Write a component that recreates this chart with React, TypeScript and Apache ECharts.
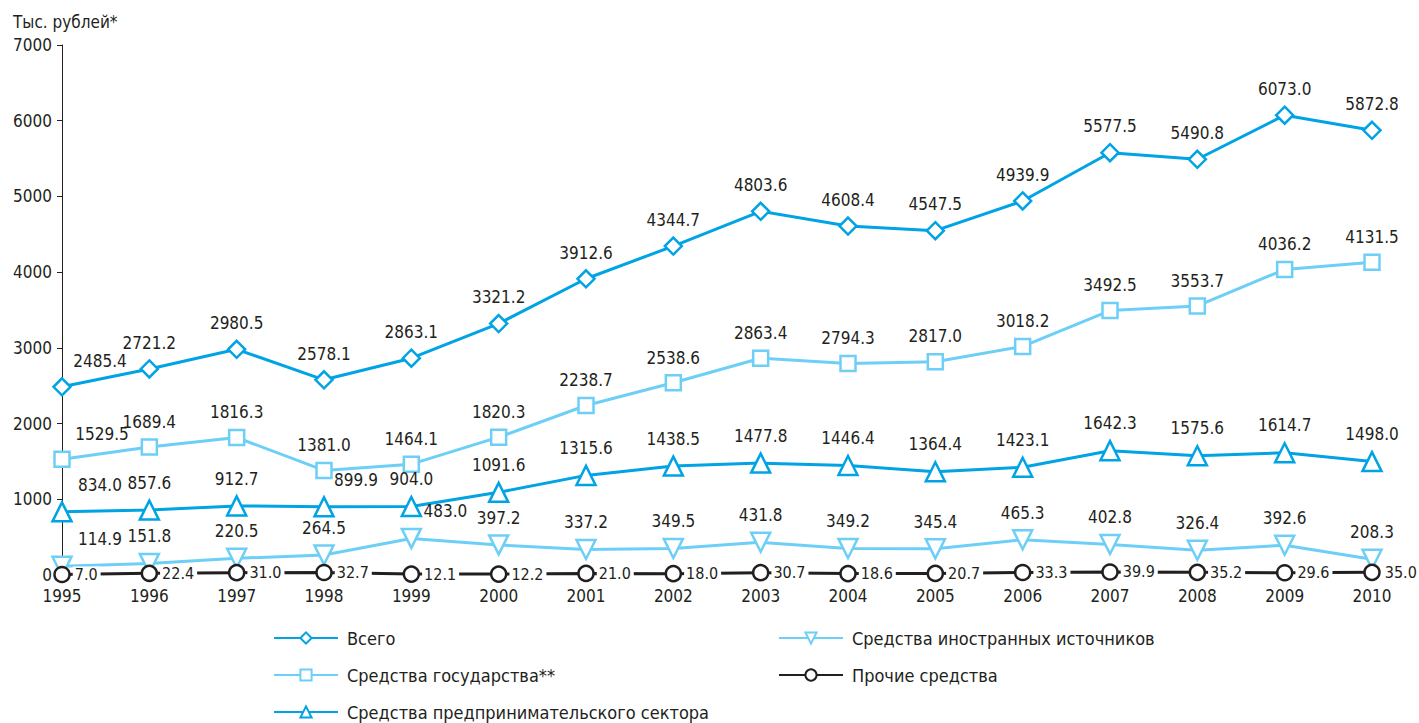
import React, { useEffect, useRef } from "react";
import * as echarts from "echarts";

const years = ["1995","1996","1997","1998","1999","2000","2001","2002","2003","2004","2005","2006","2007","2008","2009","2010"];
const total = [2485.4, 2721.2, 2980.5, 2578.1, 2863.1, 3321.2, 3912.6, 4344.7, 4803.6, 4608.4, 4547.5, 4939.9, 5577.5, 5490.8, 6073.0, 5872.8];
const gov = [1529.5, 1689.4, 1816.3, 1381.0, 1464.1, 1820.3, 2238.7, 2538.6, 2863.4, 2794.3, 2817.0, 3018.2, 3492.5, 3553.7, 4036.2, 4131.5];
const biz = [834.0, 857.6, 912.7, 899.9, 904.0, 1091.6, 1315.6, 1438.5, 1477.8, 1446.4, 1364.4, 1423.1, 1642.3, 1575.6, 1614.7, 1498.0];
const foreign = [114.9, 151.8, 220.5, 264.5, 483.0, 397.2, 337.2, 349.5, 431.8, 349.2, 345.4, 465.3, 402.8, 326.4, 392.6, 208.3];
const other = [7.0, 22.4, 31.0, 32.7, 12.1, 12.2, 21.0, 18.0, 30.7, 18.6, 20.7, 33.3, 39.9, 35.2, 29.6, 35.0];

const names = [
  "Всего",
  "Средства государства**",
  "Средства предпринимательского сектора",
  "Средства иностранных источников",
  "Прочие средства",
];

const FONT = "'DejaVu Sans Condensed', 'Liberation Sans Narrow', 'Roboto', sans-serif";
const DARK = "#231f20";
const BLUE = "#00a3e4";
const LIGHT = "#6dcff6";

// label shifts (index -> [dx, dy]) for a few points
const shiftTotal: Record<number, number[]> = { 0: [38, 0] };
const shiftGov: Record<number, number[]> = { 0: [40, 0] };
const shiftBiz: Record<number, number[]> = { 0: [38, 0], 3: [32, 0] };
const shiftForeign: Record<number, number[]> = { 0: [38, 0], 4: [34, 0] };

function items(vals: number[], shifts: Record<number, number[]>) {
  return vals.map((v, i) =>
    shifts[i] ? { value: v, label: { offset: shifts[i] } } : v
  );
}

export default function App() {
  const ref = useRef<HTMLDivElement>(null);
  useEffect(() => {
    if (!ref.current) return;
    const chart = echarts.init(ref.current, undefined, { renderer: "svg" });
    const labelBase = {
      show: true,
      position: "top" as const,
      distance: 8,
      fontFamily: FONT,
      fontSize: 17,
      color: DARK,
      formatter: (p: any) => Number(p.value).toFixed(1),
    };
    const mk = (name: string, data: any[], color: string, symbol: string, size: number, extra: any = {}) => ({
      type: "line",
      name,
      data,
      symbol,
      symbolSize: size,
      showAllSymbol: true,
      lineStyle: { color, width: 3 },
      itemStyle: { color: "#fff", borderColor: color, borderWidth: 2.5 },
      label: { ...labelBase },
      emphasis: { disabled: true },
      ...extra,
    });
    const legendPos = [
      [268, 624],
      [268, 661],
      [268, 698],
      [773, 624],
      [773, 661],
    ];
    const legends = names.map((n, i) => ({
      left: legendPos[i][0],
      top: legendPos[i][1],
      orient: "horizontal",
      itemWidth: 64,
      itemHeight: 14,
      data: [n],
      textStyle: { fontFamily: FONT, fontSize: 18, color: DARK, padding: [0, 0, 0, 4] },
    }));
    chart.setOption({
      animation: false,
      backgroundColor: "#fff",
      textStyle: { fontFamily: FONT },
      title: {
        text: "Тыс. рублей*",
        left: 8,
        top: 8,
        textStyle: { fontFamily: FONT, fontSize: 17, fontWeight: "normal", color: DARK },
      },
      grid: { left: 62, right: 47, top: 45, bottom: 148, containLabel: false },
      xAxis: {
        type: "category",
        data: years,
        boundaryGap: false,
        axisLine: { show: false },
        axisTick: { show: false },
        axisLabel: { fontFamily: FONT, fontSize: 17, color: DARK, margin: 12 },
        splitLine: { show: false },
      },
      yAxis: {
        type: "value",
        min: 0,
        max: 7000,
        interval: 1000,
        axisLine: { show: true, lineStyle: { color: DARK, width: 1 } },
        axisTick: { show: true, length: 5, lineStyle: { color: DARK } },
        axisLabel: {
          fontFamily: FONT,
          fontSize: 17,
          color: DARK,
          margin: 10,
          formatter: (v: number) => String(v),
        },
        splitLine: { show: false },
      },
      legend: legends,
      series: [
        mk(names[0], items(total, shiftTotal), BLUE, "diamond", 17),
        mk(names[1], items(gov, shiftGov), LIGHT, "rect", 15),
        mk(names[2], items(biz, shiftBiz), BLUE, "triangle", 19),
        mk(names[3], items(foreign, shiftForeign), LIGHT, "triangle", 19, { symbolRotate: 180 }),
        mk(names[4], other, DARK, "circle", 15, {
          z: 3,
          label: {
            ...labelBase,
            fontSize: 16,
            position: "right",
            distance: 2,
            backgroundColor: "#fff",
            padding: [0, 3, 0, 2],
          },
        }),
      ],
    });
    return () => chart.dispose();
  }, []);
  return (
    <div
      ref={ref}
      style={{ position: "fixed", left: 0, top: 0, width: 1419, height: 723 }}
    />
  );
}
